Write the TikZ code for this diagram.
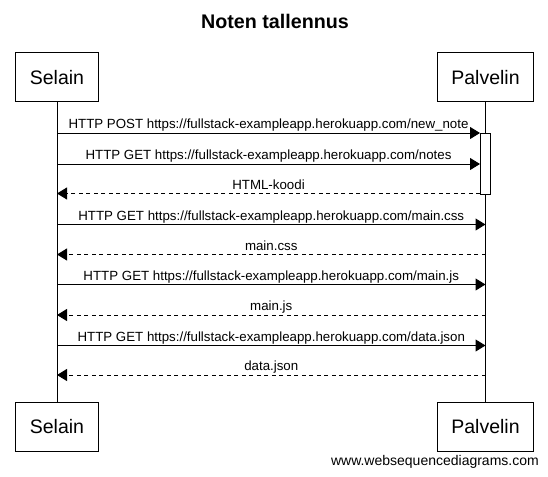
\documentclass[tikz,border=0pt]{standalone}
\usepackage{fontspec}
\setmainfont{Liberation Sans}
\usetikzlibrary{arrows.meta}
\begin{document}
\begin{tikzpicture}[x=1pt,y=-1pt,
  actor/.style={draw,line width=1pt,minimum height=49pt,inner sep=0pt,font=\fontsize{19.5}{22}\selectfont},
  life/.style={line width=1pt},
  msg/.style={line width=1pt,-{Triangle[length=10pt,width=12pt]}},
  ret/.style={msg,dash pattern=on 4pt off 3.5pt},
  lbl/.style={font=\fontsize{13.3}{15}\selectfont,inner sep=0pt,anchor=base,yshift=4.5pt},
  act/.style={draw,fill=white,line width=1pt,minimum width=10pt,minimum height=61pt,inner sep=0pt}]
\useasboundingbox (0,0) rectangle (548,476);
\node[font=\bfseries\fontsize{19.7}{22}\selectfont,anchor=base] (title) at (275,28.5) {Noten tallennus};
\node[actor,minimum width=83pt] (st) at (57,77.5) {Selain};
\node[actor,minimum width=96pt] (pt) at (485.5,77.5) {Palvelin};
\node[actor,minimum width=83pt] (sb) at (57,426.5) {Selain};
\node[actor,minimum width=96pt] (pb) at (485.5,426.5) {Palvelin};
\draw[life] (st.south) -- (sb.north);
\draw[life] (pt.south) -- (pb.north);
\node[act] (ac) at (485.5,163.5) {};
\foreach \n/\y in {1/133,2/164,3/193.5,4/224.5,5/254.5,6/284.5,7/315,8/345.5,9/375}{
  \coordinate (s\n) at (57,\y);
  \coordinate (p\n) at (485.5,\y);
}
\coordinate (a1) at (ac.west |- s1);
\coordinate (a2) at (ac.west |- s2);
\coordinate (a3) at (ac.west |- s3);
\draw[msg] (s1) -- node[lbl] (l1) {HTTP POST https://fullstack-exampleapp.herokuapp.com/new\_note} (a1);
\draw[msg] (s2) -- node[lbl] (l2) {HTTP GET https://fullstack-exampleapp.herokuapp.com/notes} (a2);
\draw[ret] (a3) -- node[lbl] (l3) {HTML-koodi} (s3);
\draw[msg] (s4) -- node[lbl] (l4) {HTTP GET https://fullstack-exampleapp.herokuapp.com/main.css} (p4);
\draw[ret] (p5) -- node[lbl] (l5) {main.css} (s5);
\draw[msg] (s6) -- node[lbl] (l6) {HTTP GET https://fullstack-exampleapp.herokuapp.com/main.js} (p6);
\draw[ret] (p7) -- node[lbl] (l7) {main.js} (s7);
\draw[msg] (s8) -- node[lbl] (l8) {HTTP GET https://fullstack-exampleapp.herokuapp.com/data.json} (p8);
\draw[ret] (p9) -- node[lbl] (l9) {data.json} (s9);
\node[font=\fontsize{14}{16}\selectfont,anchor=base east,inner sep=0pt] (wsd) at (539,465.5) {www.websequencediagrams.com};
\end{tikzpicture}
\end{document}
